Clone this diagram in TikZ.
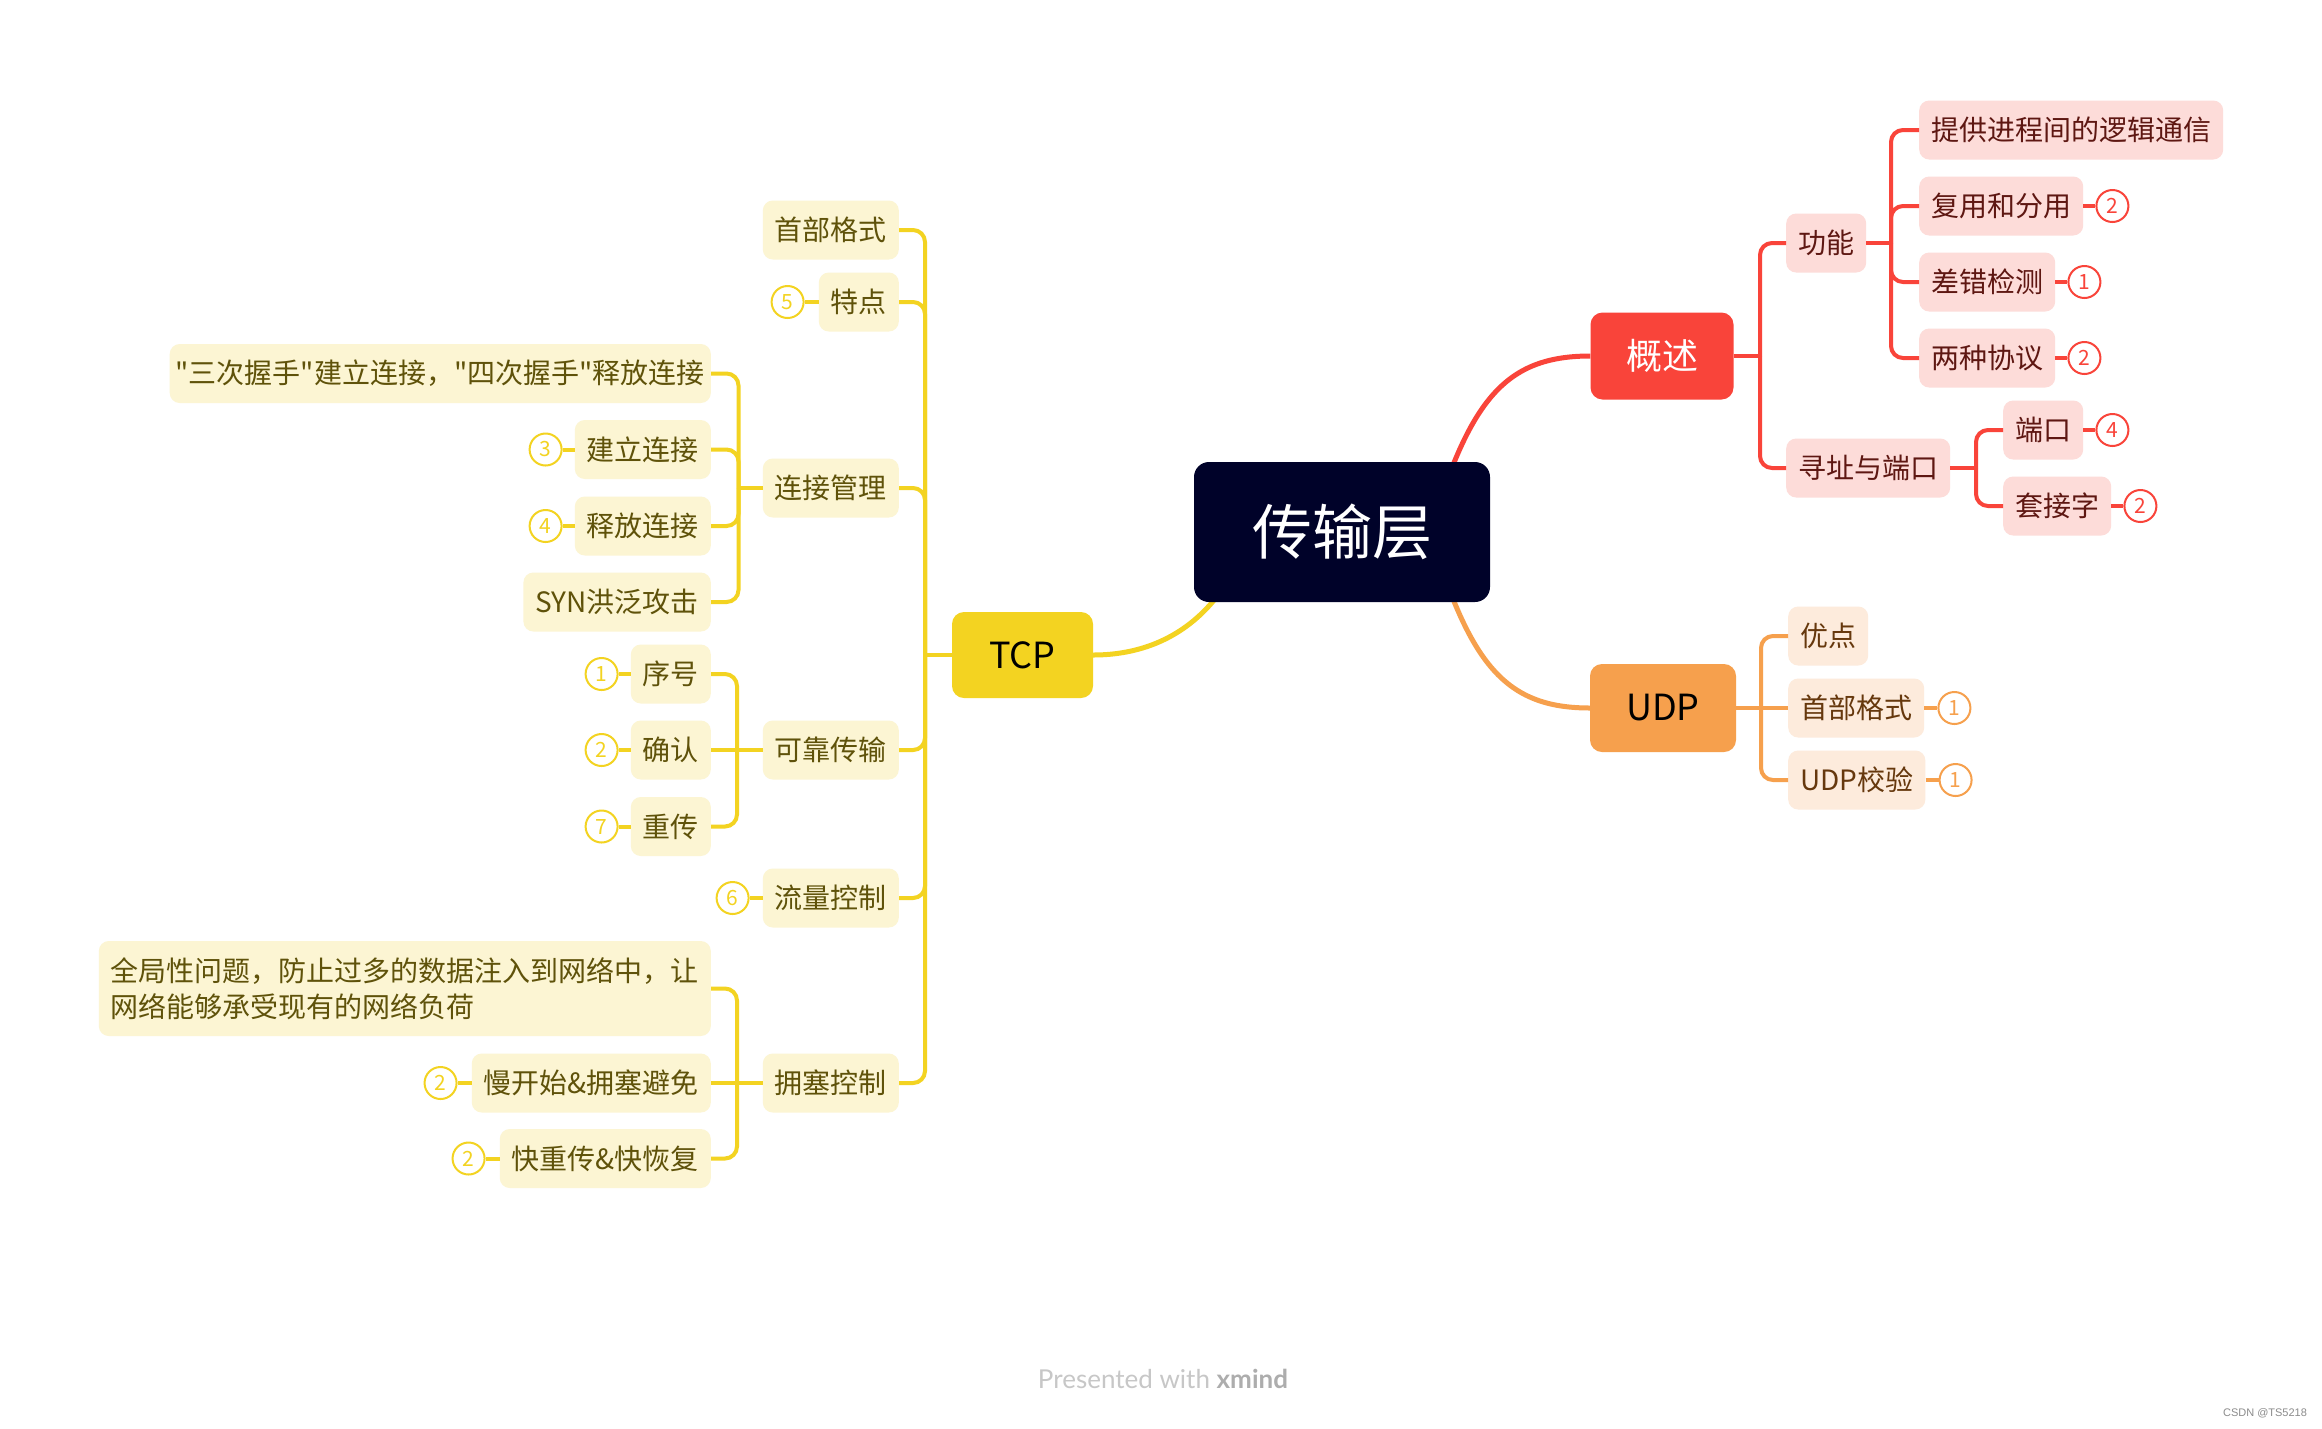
\documentclass[tikz,border=0pt]{standalone}
\usepackage{fontspec}
\setmainfont{Noto Sans CJK SC}
\newfontfamily\cjk{Noto Sans CJK SC}
\newfontfamily\footfont{Lato}
\newfontfamily\csdnfont{Liberation Sans}
\usetikzlibrary{positioning,backgrounds}
\definecolor{navy}{HTML}{000229}
\definecolor{rmain}{HTML}{F9443A}
\definecolor{rfill}{HTML}{FDDCD9}
\definecolor{rtext}{HTML}{5E1712}
\definecolor{omain}{HTML}{F6A04D}
\definecolor{ofill}{HTML}{FDEBDC}
\definecolor{otext}{HTML}{66380D}
\definecolor{ymain}{HTML}{F3D321}
\definecolor{yfill}{HTML}{FCF5D3}
\definecolor{ytext}{HTML}{5F520A}
\newcommand\myfs[2]{\fontsize{#1}{#2}\selectfont}
\tikzset{
  base/.style={rounded corners=10pt, minimum height=59pt, inner xsep=12pt, inner ysep=0pt, font=\cjk\myfs{28}{36}},
  rbox/.style={base, fill=rfill, text=rtext},
  obox/.style={base, fill=ofill, text=otext},
  ybox/.style={base, fill=yfill, text=ytext},
  badge/.style={circle, line width=2pt, fill=white, minimum size=32pt, inner sep=0pt, font=\cjk\myfs{21}{24}},
  rbadge/.style={badge, draw=rmain, text=rmain},
  obadge/.style={badge, draw=omain, text=omain},
  ybadge/.style={badge, draw=ymain, text=ymain},
  rline/.style={draw=rmain, line width=4pt, rounded corners=12pt},
  oline/.style={draw=omain, line width=4pt, rounded corners=12pt},
  yline/.style={draw=ymain, line width=4pt, rounded corners=12pt},
  topic/.style={rounded corners=12pt, inner sep=0pt, font=\cjk\myfs{36}{40}},
}
\begin{document}
\begin{tikzpicture}[x=1pt, y=-1pt]
\useasboundingbox (0,0) rectangle (2322,1428);

% central and main topics
\node[fill=navy, text=white, rounded corners=15pt, minimum width=296pt, minimum height=140pt, inner sep=0pt, font=\cjk\myfs{60}{66}] (c) at (1342,532) {传输层};
\node[topic, fill=rmain, text=white, minimum width=143pt, minimum height=87pt] (gs) at (1662,356) {概述};
\node[topic, fill=omain, text=black, minimum width=146pt, minimum height=88pt] (udp) at (1663,708) {UDP};
\node[topic, fill=ymain, text=black, minimum width=141pt, minimum height=86pt] (tcp) at (1022.5,655) {TCP};

% red branch
\node[rbox, anchor=west] (gn) at (1786,243) {功能};
\node[rbox, anchor=west] (xz) at (1786,468) {寻址与端口};
\node[rbox, anchor=west] (r1) at (1919,130) {提供进程间的逻辑通信};
\node[rbox, anchor=west] (r2) at (1919,206) {复用和分用};
\node[rbox, anchor=west] (r3) at (1919,282) {差错检测};
\node[rbox, anchor=west] (r4) at (1919,358) {两种协议};
\node[rbox, anchor=west] (r5) at (2003,430) {端口};
\node[rbox, anchor=west] (r6) at (2003,506) {套接字};
\node[rbadge, right=12pt of r2] (br2) {2};
\node[rbadge, right=12pt of r3] (br3) {1};
\node[rbadge, right=12pt of r4] (br4) {2};
\node[rbadge, right=12pt of r5] (br5) {4};
\node[rbadge, right=12pt of r6] (br6) {2};

% orange branch
\node[obox, anchor=west] (u1) at (1788,636) {优点};
\node[obox, anchor=west] (u2) at (1788,708) {首部格式};
\node[obox, anchor=west] (u3) at (1788,780) {UDP校验};
\node[obadge, right=13pt of u2] (bu2) {1};
\node[obadge, right=13pt of u3] (bu3) {1};

% yellow branch
\node[ybox, anchor=east] (t1) at (899,230) {首部格式};
\node[ybox, anchor=east] (t2) at (899,302) {特点};
\node[ybox, anchor=east] (t3) at (899,488) {连接管理};
\node[ybox, anchor=east] (t4) at (899,750) {可靠传输};
\node[ybox, anchor=east] (t5) at (899,898) {流量控制};
\node[ybox, anchor=east] (t6) at (899,1083) {拥塞控制};
\node[ybadge, left=14pt of t2] (bt2) {5};
\node[ybadge, left=13pt of t5] (bt5) {6};

\node[ybox, anchor=east, inner xsep=6pt] (c1) at (711,373.5) {"三次握手"建立连接，"四次握手"释放连接};
\node[ybox, anchor=east] (c2) at (711,449.5) {建立连接};
\node[ybox, anchor=east] (c3) at (711,526) {释放连接};
\node[ybox, anchor=east] (c4) at (711,602) {SYN洪泛攻击};
\node[ybadge, left=12pt of c2] (bc2) {3};
\node[ybadge, left=12pt of c3] (bc3) {4};

\node[ybox, anchor=east] (k1) at (711,674) {序号};
\node[ybox, anchor=east] (k2) at (711,750) {确认};
\node[ybox, anchor=east] (k3) at (711,826.5) {重传};
\node[ybadge, left=12pt of k1] (bk1) {1};
\node[ybadge, left=12pt of k2] (bk2) {2};
\node[ybadge, left=12pt of k3] (bk3) {7};

\node[ybox, anchor=east, align=left, minimum height=95pt] (y1) at (711,988.5) {全局性问题，防止过多的数据注入到网络中，让\\网络能够承受现有的网络负荷};
\node[ybox, anchor=east] (y2) at (711,1083) {慢开始\&拥塞避免};
\node[ybox, anchor=east] (y3) at (711,1158.5) {快重传\&快恢复};
\node[ybadge, left=14pt of y2] (by2) {2};
\node[ybadge, left=14pt of y3] (by3) {2};

% junctions
\coordinate (jg) at (1760,356);
\coordinate (jf) at (1891,243);
\coordinate (jx) at (1976,468);
\coordinate (ju) at (1761,708);
\coordinate (jt) at (925,655);
\coordinate (jc) at (738.5,488);
\coordinate (jk) at (737,750);
\coordinate (jy) at (737,1083);

\begin{scope}[on background layer]
\fill[white] (0,0) rectangle (2322,1428);
\draw[rmain, line width=5pt] ([xshift=88pt]c.center) .. controls (1470,400) and (1505,356) .. (gs.west);
\draw[omain, line width=5pt] ([xshift=88pt]c.center) .. controls (1470,664) and (1505,708) .. (udp.west);
\draw[ymain, line width=5pt] ([xshift=-92pt]c.center) .. controls (1225,610) and (1170,655) .. (tcp.east);
\end{scope}

% red connectors
\draw[rline] (gs.east) -- (jg);
\draw[rline] (jg) |- (gn.west);
\draw[rline] (jg) |- (xz.west);
\draw[rline] (gn.east) -- (jf);
\foreach \n in {r1,r2,r3,r4} \draw[rline] (jf) |- (\n.west);
\draw[rline] (xz.east) -- (jx);
\foreach \n in {r5,r6} \draw[rline] (jx) |- (\n.west);
\foreach \n in {2,3,4,5,6} \draw[rline] (r\n.east) -- (br\n.west);

% orange connectors
\draw[oline] (udp.east) -- (ju);
\draw[oline] (ju) |- (u1.west);
\draw[oline] (ju) -- (u2.west);
\draw[oline] (ju) |- (u3.west);
\draw[oline] (u2.east) -- (bu2.west);
\draw[oline] (u3.east) -- (bu3.west);

% yellow connectors
\draw[yline] (tcp.west) -- (jt);
\foreach \n in {t1,t2,t3,t4,t5,t6} \draw[yline] (jt) |- (\n.east);
\draw[yline] (t2.west) -- (bt2.east);
\draw[yline] (t5.west) -- (bt5.east);
\draw[yline] (t3.west) -- (jc);
\foreach \n in {c1,c2,c3,c4} \draw[yline] (jc) |- (\n.east);
\draw[yline] (c2.west) -- (bc2.east);
\draw[yline] (c3.west) -- (bc3.east);
\draw[yline] (t4.west) -- (jk);
\foreach \n in {k1,k3} \draw[yline] (jk) |- (\n.east);
\draw[yline] (jk) -- (k2.east);
\foreach \n in {1,2,3} \draw[yline] (k\n.west) -- (bk\n.east);
\draw[yline] (t6.west) -- (jy);
\foreach \n in {y1,y3} \draw[yline] (jy) |- (\n.east);
\draw[yline] (jy) -- (y2.east);
\draw[yline] (y2.west) -- (by2.east);
\draw[yline] (y3.west) -- (by3.east);

% footer
\node[font=\footfont\myfs{26}{30}, text=black!22] (ft) at (1163,1379) {Presented with {\color{black!32}\bfseries xmind}};
\node[font=\csdnfont\myfs{11}{13}, text=black!45] (cs) at (2265,1413) {CSDN @TS5218};
\end{tikzpicture}
\end{document}
